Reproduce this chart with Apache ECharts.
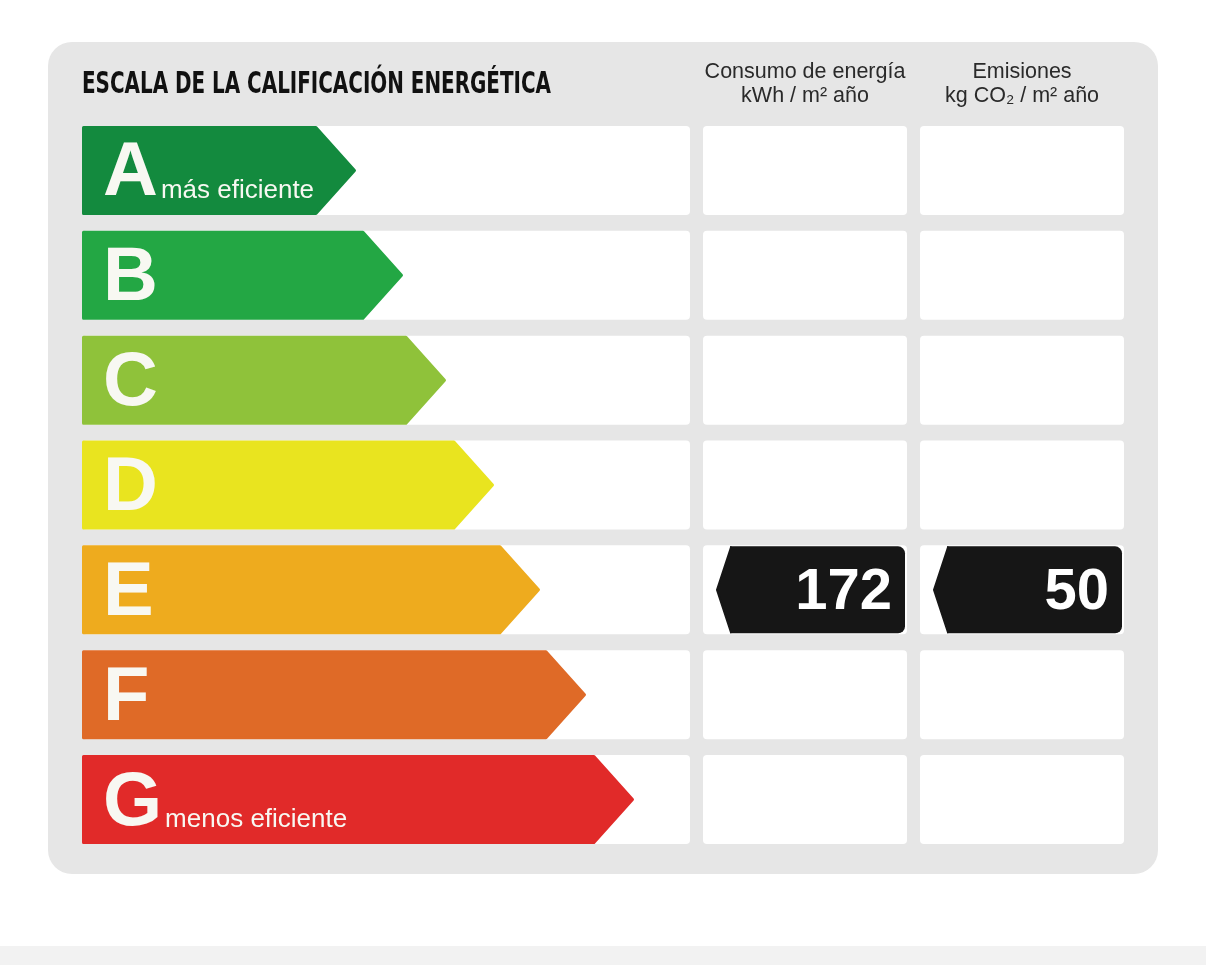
<!DOCTYPE html>
<html>
<head>
<meta charset="utf-8">
<script src="https://cdn.jsdelivr.net/npm/echarts@6/dist/echarts.min.js"></script>
<style>
html,body{margin:0;padding:0;background:#fff;}
#chart{width:1206px;height:965px;}
</style>
</head>
<body>
<div id="chart"></div>
<script>
// ---- data ----
const chartTitle = 'ESCALA DE LA CALIFICACIÓN ENERGÉTICA';
const classes = ['A', 'B', 'C', 'D', 'E', 'F', 'G'];
const classNotes = ['más eficiente', '', '', '', '', '', 'menos eficiente'];
const classColors = ['#138a3e', '#23a744', '#8fc23a', '#e9e41f', '#eeab1e', '#df6a27', '#e12a29'];
const arrowTips = [274, 321, 364, 412, 458, 504, 552];
const columnTitles = [['Consumo de energía', 'kWh / m² año'], ['Emisiones', 'kg CO₂ / m² año']];
const ratedClass = 'E';
const energyValue = 172;
const emissionsValue = 50;

// ---- layout (axis units) ----
const SCALE_MAX = 1042;
const CELLS = [[0, 608], [621, 204], [838, 204]];
const ROW_FILL = 0.849;

const chart = echarts.init(document.getElementById('chart'), null, {renderer: 'canvas'});

function measure(text, font) {
  const c = document.createElement('canvas').getContext('2d');
  c.font = font;
  return c.measureText(text).width;
}
const titleFont = 'bold 30px "Liberation Sans Narrow", "DejaVu Sans Condensed", sans-serif';
const titleScale = 469 / measure(chartTitle, titleFont);
const letterFont = 'bold 76px "Liberation Sans"';

function rowGeom(params, api, classIdx) {
  const cs = params.coordSys;
  const cy = api.coord([0, classIdx])[1];
  const band = api.size([0, 1])[1];
  const h = band * ROW_FILL;
  const u = cs.width / SCALE_MAX;
  return {cs, cy, h, top: cy - h / 2, bot: cy + h / 2, u, x0: cs.x};
}

function renderRow(params, api) {
  const i = api.value(1);
  const g = rowGeom(params, api, i);
  const tipX = api.coord([api.value(0), i])[0];
  const children = CELLS.map(([cx, cw]) => ({
    type: 'rect',
    shape: {x: g.x0 + cx * g.u, y: g.top, width: cw * g.u, height: g.h, r: 4},
    style: {fill: '#ffffff'}
  }));
  const d = g.h * 0.45;
  const s = 1.5;
  children.push({
    type: 'polygon',
    shape: {points: [
      [g.x0 + s, g.top + s], [tipX - d, g.top + s], [tipX - s, g.cy],
      [tipX - d, g.bot - s], [g.x0 + s, g.bot - s]
    ]},
    style: {fill: classColors[i], stroke: classColors[i], lineWidth: 3, lineJoin: 'round'}
  });
  children.push({
    type: 'text',
    x: g.x0 + 21, y: g.cy + 4,
    style: {
      text: classes[i], fill: '#f8f8f2',
      fontFamily: 'Liberation Sans', fontWeight: 'bold', fontSize: 76,
      textAlign: 'left', textVerticalAlign: 'middle', align: 'left', verticalAlign: 'middle'
    }
  });
  if (classNotes[i]) {
    const lw = measure(classes[i], letterFont);
    children.push({
      type: 'text',
      x: g.x0 + 21 + lw + 3, y: g.cy + 20,
      style: {
        text: classNotes[i], fill: '#f8f8f2',
        fontFamily: 'Liberation Sans', fontSize: 26,
        textAlign: 'left', textVerticalAlign: 'middle', align: 'left', verticalAlign: 'middle'
      }
    });
  }
  return {type: 'group', children};
}

function renderTag(params, api) {
  const col = api.value(0);
  const i = api.value(1);
  const val = api.value(2);
  const g = rowGeom(params, api, i);
  const cl = g.x0 + CELLS[col][0] * g.u;
  const cr = cl + CELLS[col][1] * g.u;
  const top = g.top + 1, bot = g.bot - 1;
  const tipX = cl + 13, bodyX = cl + 27;
  return {
    type: 'group',
    children: [
      {type: 'polygon', shape: {points: [[tipX + 1, g.cy], [bodyX + 1, top + 1], [bodyX + 1, bot - 1]]},
        style: {fill: '#161616', stroke: '#161616', lineWidth: 2, lineJoin: 'round'}},
      {type: 'rect', shape: {x: bodyX, y: top, width: cr - 2 - bodyX, height: bot - top, r: [0, 7, 7, 0]},
        style: {fill: '#161616'}},
      {type: 'text', x: cr - 15, y: g.cy + 3,
        style: {text: String(val), fill: '#ffffff',
          fontFamily: 'Liberation Sans', fontWeight: 'bold', fontSize: 58,
          textAlign: 'right', textVerticalAlign: 'middle', align: 'right', verticalAlign: 'middle'}}
    ]
  };
}

const ratedIdx = classes.indexOf(ratedClass);
const colCenters = [805, 1022];

const graphics = [
  {type: 'rect', z: -10, shape: {x: 48, y: 42, width: 1110, height: 832, r: 24}, style: {fill: '#e6e6e6'}},
  {type: 'rect', z: -10, shape: {x: 0, y: 946, width: 1206, height: 19}, style: {fill: '#f2f2f2'}},
  {type: 'text', x: 82, y: 85, scaleX: titleScale, originX: 0, originY: 0,
    style: {text: chartTitle, font: titleFont, fill: '#111111', textAlign: 'left', textVerticalAlign: 'middle', align: 'left', verticalAlign: 'middle'}}
];
columnTitles.forEach((lines, k) => {
  lines.forEach((ln, j) => {
    graphics.push({type: 'text', x: colCenters[k], y: 72 + j * 24,
      style: {text: ln, fontFamily: 'Liberation Sans', fontSize: 21.5, fill: '#2a2a2a',
        textAlign: 'center', textVerticalAlign: 'middle', align: 'center', verticalAlign: 'middle'}});
  });
});

chart.setOption({
  animation: false,
  backgroundColor: '#ffffff',
  grid: {left: 82, right: 82, top: 118, bottom: 113},
  xAxis: {type: 'value', min: 0, max: SCALE_MAX, show: false},
  yAxis: {type: 'category', data: classes, inverse: true, show: false},
  graphic: graphics,
  series: [
    {
      type: 'custom', name: 'escala',
      renderItem: renderRow,
      encode: {x: 0, y: 1},
      data: classes.map((c, i) => [arrowTips[i], i])
    },
    {
      type: 'custom', name: 'valores', z: 5,
      renderItem: renderTag,
      encode: {x: 0, y: 1},
      data: [[1, ratedIdx, energyValue], [2, ratedIdx, emissionsValue]]
    }
  ]
});
</script>
</body>
</html>
